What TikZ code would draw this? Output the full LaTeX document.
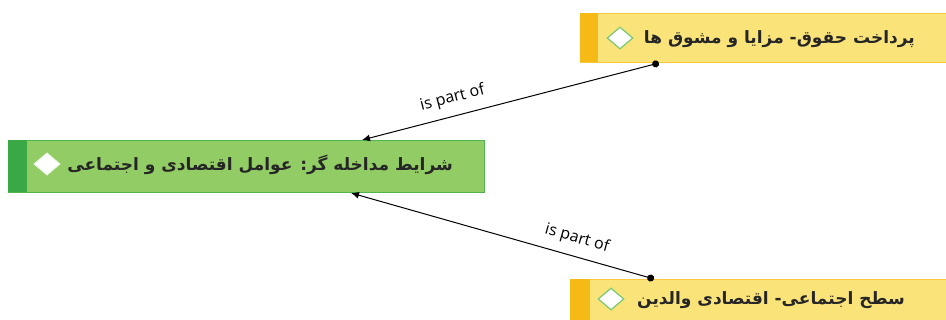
\documentclass[tikz,border=0pt]{standalone}
\usepackage{fontspec}
\usepackage{tikz}
\usetikzlibrary{positioning,arrows.meta,shapes.geometric}
\setmainfont{Open Sans}
\newfontfamily\arabicfont[Script=Arabic]{DejaVu Sans}
\TeXXeTstate=1
\definecolor{yfill}{RGB}{250,228,122}
\definecolor{yline}{RGB}{250,200,60}
\definecolor{ybar}{RGB}{246,186,22}
\definecolor{gfill}{RGB}{146,204,100}
\definecolor{gline}{RGB}{80,180,80}
\definecolor{gbar}{RGB}{58,168,68}
\definecolor{dline}{RGB}{120,200,110}

\tikzset{
  codebox/.style={draw=#1line, fill=#1fill, line width=1pt, rectangle, anchor=north west, inner sep=0pt},
  codebar/.style={fill=#1bar, rectangle, anchor=north west, inner sep=0pt, minimum width=18pt},
  codetext/.style={font=\arabicfont\bfseries\fontsize{17}{20}\selectfont, text=black!85, anchor=east, inner sep=0pt},
  mark diamond/.style={diamond, draw=#1, fill=white, line width=1.2pt, inner sep=0pt, minimum width=26pt, minimum height=22pt},
  rel/.style={font=\fontsize{16}{19}\selectfont, sloped, above=6pt},
}

\begin{document}
\begin{tikzpicture}[x=1pt,y=-1pt]
  \useasboundingbox (0,0) rectangle (946,320);
  % codes
  \node[codebox=y, minimum width=370pt, minimum height=49pt] (top) at (580,13) {};
  \node[codebar=y, minimum height=49pt] (topbar) at (580,13) {};
  \node[mark diamond=dline] (topd) at (620,38) {};
  \node[codetext] (toptxt) at (915,39) {\beginR پرداخت حقوق- مزایا و مشوق ها\endR};

  \node[codebox=g, minimum width=476pt, minimum height=52pt] (mid) at (8,140) {};
  \node[codebar=g, minimum height=52pt, minimum width=19pt] (midbar) at (8,140) {};
  \node[mark diamond=white!85!gfill] (midd) at (47,164) {};
  \node[codetext] (midtxt) at (453,165) {\beginR شرایط مداخله گر: عوامل اقتصادی و اجتماعی\endR};

  \node[codebox=y, minimum width=380pt, minimum height=45pt] (bot) at (570,279) {};
  \node[codebar=y, minimum height=45pt, minimum width=20pt] (botbar) at (570,279) {};
  \node[mark diamond=dline] (botd) at (611,299) {};
  \node[codetext] (bottxt) at (905,300) {\beginR سطح اجتماعی- اقتصادی والدین\endR};

  % links
  \coordinate (topout) at ([xshift=79pt]top.south west);
  \coordinate (midin) at ([xshift=354pt]mid.north west);
  \coordinate (botout) at ([xshift=84pt]bot.north west);
  \coordinate (midin2) at ([xshift=343pt]mid.south west);
  \path[{Circle[length=7pt]}-{Latex[length=8pt,width=7pt]}, line width=1pt]
    (topout) edge node[rel, pos=0.68] {is part of} (midin)
    (botout) edge node[rel, pos=0.27] {is part of} (midin2);
\end{tikzpicture}
\end{document}
